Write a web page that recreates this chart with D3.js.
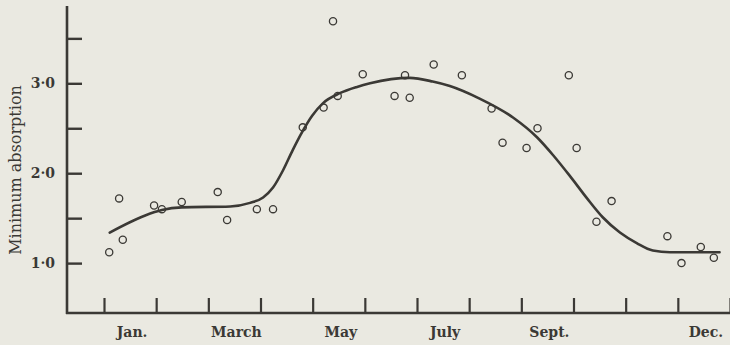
<!DOCTYPE html>
<meta charset="utf-8">
<script src="https://d3js.org/d3.v7.min.js"></script>
<style>
  body { margin: 0; background: #eae9e1; }
  svg { display: block; }
</style>
<div id="chart"></div>
<script>
  // observations: month position (0 = start of Jan) and minimum absorption
  const obsMonth = [0.10, 0.29, 0.36, 0.96, 1.11, 1.49, 2.18, 2.36, 2.93, 3.24,
    3.81, 4.21, 4.48, 4.39, 4.96, 5.57, 5.77, 5.86, 6.32, 6.86,
    7.43, 7.64, 8.10, 8.31, 8.91, 9.06, 9.44, 9.73, 10.80, 11.07, 11.44, 11.69];
  const obsValue = [1.12, 1.72, 1.26, 1.64, 1.60, 1.68, 1.79, 1.48, 1.60, 1.60,
    2.51, 2.73, 2.86, 3.69, 3.10, 2.86, 3.09, 2.84, 3.21, 3.09,
    2.72, 2.34, 2.28, 2.50, 3.09, 2.28, 1.46, 1.69, 1.30, 1.00, 1.18, 1.06];

  // smoothed curve drawn through the points
  const curveMonth = [0.11, 0.79, 1.11, 1.49, 2.42, 2.80, 3.05, 3.24, 3.43, 3.62, 3.80,
    3.99, 4.20, 4.52, 4.85, 5.10, 5.86, 6.30, 6.63, 7.20, 7.84, 8.30, 8.61, 8.93,
    9.26, 9.56, 9.89, 10.22, 10.52, 10.85, 11.23, 11.80];
  const curveValue = [1.34, 1.53, 1.59, 1.62, 1.63, 1.67, 1.73, 1.84, 2.03, 2.26, 2.46,
    2.64, 2.78, 2.89, 2.96, 3.00, 3.06, 3.02, 2.97, 2.83, 2.62, 2.40, 2.20, 1.97,
    1.72, 1.51, 1.34, 1.22, 1.14, 1.12, 1.12, 1.12];

  const monthTicks = d3.range(0, 13);
  const monthLabels = ["Jan.", "March", "May", "July", "Sept.", "Dec."];
  const monthLabelAt = [0, 2, 4, 6, 8, 11];
  const yMajor = [1, 2, 3];
  const yMajorLabels = ["1·0", "2·0", "3·0"];
  const yMinor = [1.5, 2.5, 3.5];

  const width = 730, height = 345;
  const axisX = 67, axisY = 313, plotTop = 6;
  const ink = "#3b3935";

  const svg = d3.select("#chart").append("svg")
    .attr("width", width)
    .attr("height", height);

  const x = d3.scaleLinear().domain([0, 12]).range([104, 730]);
  const y = d3.scaleLinear().domain([0.445, 3.86]).range([axisY, plotTop]);

  // axis lines
  svg.append("line")
    .attr("x1", axisX).attr("x2", axisX)
    .attr("y1", plotTop).attr("y2", axisY + 1)
    .attr("stroke", ink).attr("stroke-width", 2.6);
  svg.append("line")
    .attr("x1", axisX - 1).attr("x2", width)
    .attr("y1", axisY).attr("y2", axisY)
    .attr("stroke", ink).attr("stroke-width", 2.6);

  // month ticks pointing up
  const xAxis = svg.append("g")
    .attr("transform", `translate(0,${axisY})`)
    .call(d3.axisBottom(x).tickValues(monthTicks).tickSizeInner(-15).tickSizeOuter(0).tickFormat(""));
  xAxis.select(".domain").remove();
  xAxis.selectAll("line").attr("stroke", ink).attr("stroke-width", 2.2);

  // y ticks pointing right
  const yAxis = svg.append("g")
    .attr("transform", `translate(${axisX},0)`)
    .call(d3.axisLeft(y).tickValues(yMajor.concat(yMinor)).tickSizeInner(-15).tickSizeOuter(0).tickFormat(""));
  yAxis.select(".domain").remove();
  yAxis.selectAll("line").attr("stroke", ink).attr("stroke-width", 2.4);

  // tick labels
  svg.selectAll(".ylab")
    .data(yMajor)
    .join("text")
    .attr("x", 55)
    .attr("y", d => y(d))
    .attr("dy", "0.36em")
    .attr("text-anchor", "end")
    .attr("font-family", "DejaVu Serif")
    .attr("font-weight", "bold")
    .attr("font-size", 14)
    .attr("fill", ink)
    .text((d, i) => yMajorLabels[i]);

  svg.selectAll(".xlab")
    .data(monthLabels)
    .join("text")
    .attr("x", (d, i) => x(monthLabelAt[i] + 0.5) + 2)
    .attr("y", 337)
    .attr("text-anchor", "middle")
    .attr("font-family", "DejaVu Serif")
    .attr("font-weight", "bold")
    .attr("font-size", 14)
    .attr("fill", ink)
    .text(d => d);

  // axis title
  svg.append("text")
    .attr("transform", `translate(21,170) rotate(-90)`)
    .attr("text-anchor", "middle")
    .attr("font-family", "DejaVu Serif")
    .attr("font-size", 16)
    .attr("fill", ink)
    .text("Minimum absorption");

  // smoothed curve
  const line = d3.line()
    .x(d => x(d[0]))
    .y(d => y(d[1]))
    .curve(d3.curveMonotoneX);

  svg.append("path")
    .datum(d3.zip(curveMonth, curveValue))
    .attr("d", line)
    .attr("fill", "none")
    .attr("stroke", ink)
    .attr("stroke-width", 2.6)
    .attr("stroke-linecap", "round");

  // observation circles
  svg.selectAll(".obs")
    .data(d3.zip(obsMonth, obsValue))
    .join("circle")
    .attr("cx", d => x(d[0]))
    .attr("cy", d => y(d[1]))
    .attr("r", 3.6)
    .attr("fill", "none")
    .attr("stroke", ink)
    .attr("stroke-width", 1.3);
</script>
